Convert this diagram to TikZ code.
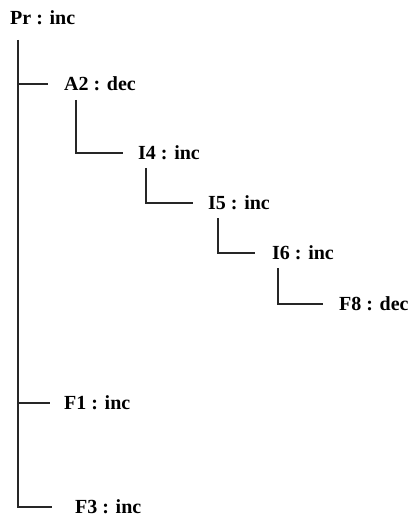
\documentclass[tikz,border=0pt]{standalone}
\usepackage{fontspec}
\setmainfont{Liberation Serif}
\begin{document}
\begin{tikzpicture}[x=1pt,y=-1pt,
  lbl/.style={anchor=west,inner sep=0pt,font=\bfseries\fontsize{20}{22}\selectfont},
  conn/.style={line width=1.4pt,draw=black!85}]
\useasboundingbox (0,0) rectangle (410,521);
\node[lbl] (pr) at (10,18) {Pr : inc};
\node[lbl] (a2) at (64,84) {A2 : dec};
\node[lbl] (i4) at (138,153) {I4 : inc};
\node[lbl] (i5) at (208,203) {I5 : inc};
\node[lbl] (i6) at (272,253) {I6 : inc};
\node[lbl] (f8) at (339,304) {F8 : dec};
\node[lbl] (f1) at (64,403) {F1 : inc};
\node[lbl] (f3) at (75,507) {F3 : inc};
\coordinate (s0) at (18,40);
\coordinate (s1) at (76,100);
\coordinate (s2) at (146,168);
\coordinate (s3) at (218,218);
\coordinate (s4) at (278,268);
\draw[conn] (s0) |- ([xshift=-23pt]f3.west);
\draw[conn] (s0 |- a2.west) -- ([xshift=-16pt]a2.west);
\draw[conn] (s0 |- f1.west) -- ([xshift=-14pt]f1.west);
\draw[conn] (s1) |- ([xshift=-15pt]i4.west);
\draw[conn] (s2) |- ([xshift=-15pt]i5.west);
\draw[conn] (s3) |- ([xshift=-17pt]i6.west);
\draw[conn] (s4) |- ([xshift=-16pt]f8.west);
\end{tikzpicture}
\end{document}
